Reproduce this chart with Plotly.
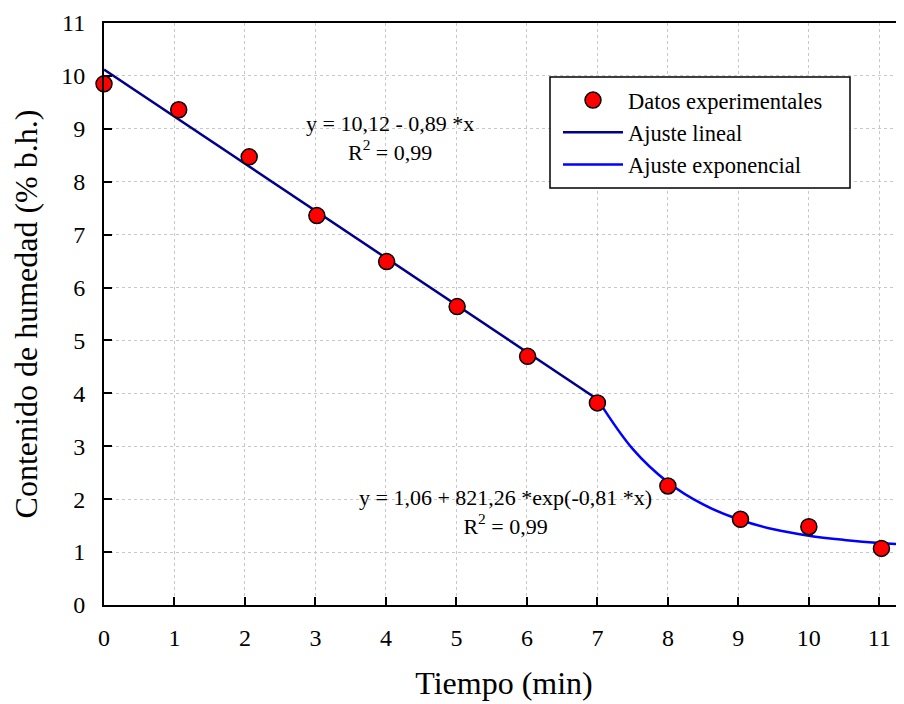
import plotly.graph_objects as go

# Experimental data
tiempo = [0.0, 1.06, 2.06, 3.02, 4.01, 5.01, 6.01, 7.0, 8.0, 9.03, 10.0, 11.03]
humedad = [9.85, 9.36, 8.47, 7.36, 6.49, 5.64, 4.70, 3.82, 2.25, 1.62, 1.48, 1.07]

# Linear fit line
lin_x = [0.0, 7.0]
lin_y = [10.12, 3.89]

# Exponential fit curve
exp_x = [7.0, 7.5, 8.0, 8.5, 9.0, 9.5, 10.0, 10.5, 11.0, 11.4]
exp_y = [3.89, 2.95, 2.32, 1.90, 1.62, 1.43, 1.31, 1.23, 1.17, 1.14]

x_ticks = list(range(0, 12))
y_ticks = list(range(0, 12))

FONT = "Liberation Serif, Times New Roman, serif"

fig = go.Figure()
fig.add_trace(go.Scatter(
    x=lin_x, y=lin_y, mode="lines", name="Ajuste lineal",
    line=dict(color="#00008b", width=2.5), legendrank=2,
))
fig.add_trace(go.Scatter(
    x=exp_x, y=exp_y, mode="lines", name="Ajuste exponencial",
    line=dict(color="#0000ff", width=2.5, shape="spline"), legendrank=3,
))
fig.add_trace(go.Scatter(
    x=tiempo, y=humedad, mode="markers", name="Datos experimentales",
    marker=dict(color="#ff0000", size=16, line=dict(color="black", width=1.5)),
    cliponaxis=False, legendrank=1,
))

fig.update_layout(
    width=896, height=696,
    margin=dict(l=96, r=0, t=15, b=99),
    paper_bgcolor="white", plot_bgcolor="white",
    font=dict(family=FONT, size=22, color="black"),
    legend=dict(
        x=0.5675, y=0.8119, xanchor="left", yanchor="middle",
        bgcolor="rgba(0,0,0,0)", borderwidth=0,
        font=dict(family=FONT, size=22.5),
        itemwidth=60, tracegroupgap=0,
    ),
    shapes=[
        dict(type="rect", xref="paper", yref="paper",
             x0=0.5575, x1=0.9325, y0=0.7165, y1=0.9072,
             fillcolor="white", line=dict(color="black", width=1.5),
             layer="above"),
    ],
    annotations=[
        dict(x=4.06, y=8.82, xref="x", yref="y", showarrow=False,
             text="y = 10,12 - 0,89 *x<br>R<sup>2</sup> = 0,99",
             font=dict(family=FONT, size=22), align="center", yanchor="middle"),
        dict(x=5.70, y=1.75, xref="x", yref="y", showarrow=False,
             text="y = 1,06 + 821,26 *exp(-0,81 *x)<br>R<sup>2</sup> = 0,99",
             font=dict(family=FONT, size=22), align="center", yanchor="middle"),
    ],
)

fig.update_xaxes(
    range=[0, 11.35], tickvals=x_ticks, ticktext=[str(v) for v in x_ticks],
    showline=True, linecolor="black", linewidth=2, mirror=True,
    ticks="inside", ticklen=8, tickwidth=2, tickcolor="black",
    showgrid=True, gridcolor="#c8c8c8", gridwidth=1, griddash="dot",
    zeroline=False, automargin=False, ticklabelstandoff=10,
    tickfont=dict(family=FONT, size=24),
    title=dict(text="Tiempo (min)", font=dict(family=FONT, size=32), standoff=22),
)
fig.update_yaxes(
    range=[0, 11], tickvals=y_ticks, ticktext=[str(v) for v in y_ticks],
    showline=True, linecolor="black", linewidth=2,
    ticks="inside", ticklen=8, tickwidth=2, tickcolor="black",
    showgrid=True, gridcolor="#c8c8c8", gridwidth=1, griddash="dot",
    zeroline=False, automargin=False, ticklabelstandoff=12,
    tickfont=dict(family=FONT, size=24),
    title=dict(text="Contenido de humedad (% b.h.)", font=dict(family=FONT, size=32), standoff=22),
)

fig.write_html("out.html")
